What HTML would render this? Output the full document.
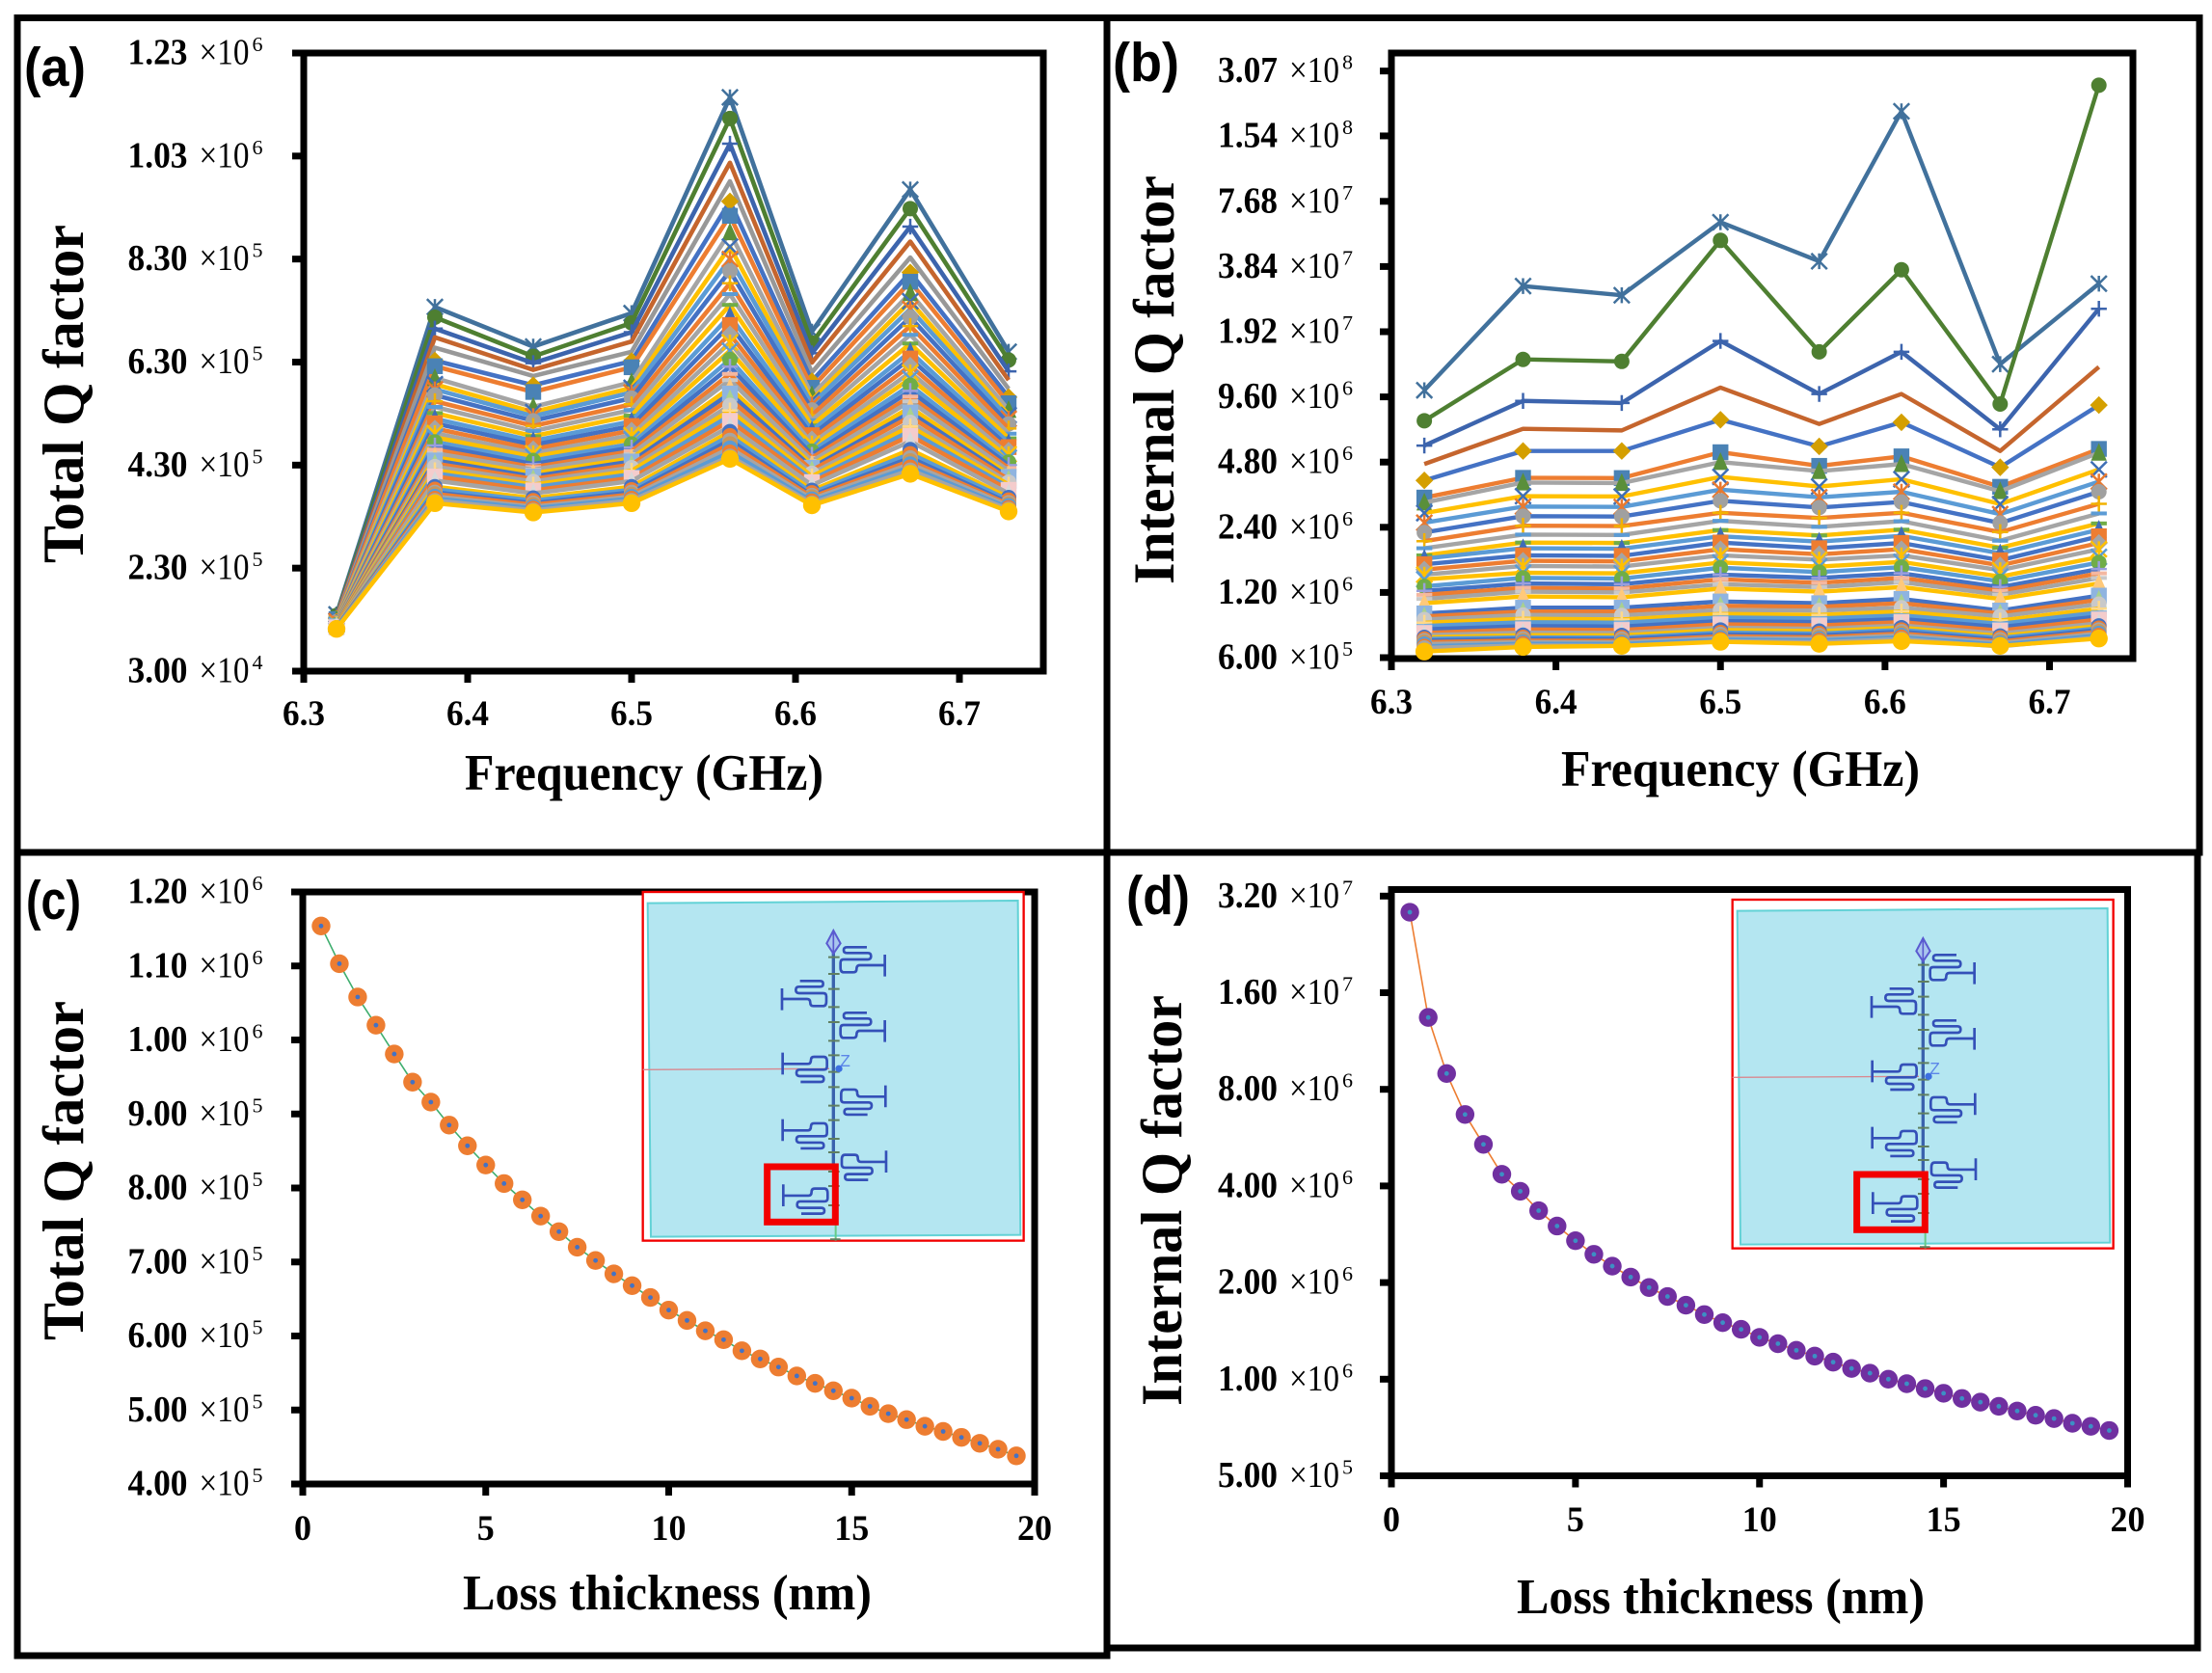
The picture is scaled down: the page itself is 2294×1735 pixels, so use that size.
<!DOCTYPE html>
<html lang="en">
<head>
<meta charset="utf-8">
<title>Q factor charts</title>
<style>
html,body{margin:0;padding:0;background:#fff;}
svg{display:block;}
.title{font-family:"Liberation Serif",serif;font-weight:bold;fill:#000;}
.letter{font-family:"Liberation Sans",sans-serif;font-weight:bold;font-size:57px;fill:#000;}
</style>
</head>
<body>
<svg id="fig" xmlns="http://www.w3.org/2000/svg" width="2294" height="1735" viewBox="0 0 2294 1735">
  <rect x="0" y="0" width="2294" height="1735" fill="#fff"/>
  <g stroke="#000" stroke-width="7" fill="none">
    <path d="M18 18.5H2281V884H18Z"/>
    <path d="M18 884V1717H1148V884"/>
    <path d="M1148 1709H2279V884"/>
    <path d="M1148 18V884"/>
  </g>

  <text class="letter" x="25" y="89" textLength="64" lengthAdjust="spacingAndGlyphs">(a)</text>
  <text class="letter" x="1154" y="84" textLength="69" lengthAdjust="spacingAndGlyphs">(b)</text>
  <text class="letter" x="27" y="953" textLength="57" lengthAdjust="spacingAndGlyphs">(c)</text>
  <text class="letter" x="1168" y="948" textLength="66" lengthAdjust="spacingAndGlyphs">(d)</text>

  <text class="title" x="482" y="819" font-size="53" textLength="372" lengthAdjust="spacingAndGlyphs">Frequency (GHz)</text>
  <text class="title" x="1619" y="815" font-size="53" textLength="372" lengthAdjust="spacingAndGlyphs">Frequency (GHz)</text>
  <text class="title" x="480" y="1669" font-size="52" textLength="424" lengthAdjust="spacingAndGlyphs">Loss thickness (nm)</text>
  <text class="title" x="1573" y="1673" font-size="52" textLength="423" lengthAdjust="spacingAndGlyphs">Loss thickness (nm)</text>
  <text class="title" transform="translate(86,584) rotate(-90)" font-size="60" textLength="351" lengthAdjust="spacingAndGlyphs">Total Q factor</text>
  <text class="title" transform="translate(1217,606) rotate(-90)" font-size="60" textLength="424" lengthAdjust="spacingAndGlyphs">Internal Q factor</text>
  <text class="title" transform="translate(86,1390) rotate(-90)" font-size="60" textLength="352" lengthAdjust="spacingAndGlyphs">Total Q factor</text>
  <text class="title" transform="translate(1225,1458) rotate(-90)" font-size="60" textLength="426" lengthAdjust="spacingAndGlyphs">Internal Q factor</text>

  <g id="charts"></g>

  <defs>
    <path id="meander" d="M773 243H695Q685 243 685 255Q685 265 675 265H645Q635 265 635 250V235Q635 225 645 225H720Q730 225 730 215Q730 205 720 205H655Q645 205 645 196Q645 187 655 187H717M773 210V278" fill="none" stroke="#3450b8" stroke-width="8"/>
    <g id="layout">
      <rect x="20" y="15" width="1185" height="1085" fill="#fff" stroke="#f20000" stroke-width="7"/>
      <polygon points="35,50 1187,42 1195,1082 45,1088" fill="#b4e6f1" stroke="#62d2d6" stroke-width="6"/>
      <path d="M20 568L600 565" stroke="#d9878f" stroke-width="4" fill="none"/>
      <path d="M620 1050V1100" stroke="#66cc88" stroke-width="6" fill="none"/>
      <path d="M613 205V880" stroke="#3a62ad" stroke-width="10" fill="none"/>
      <path d="M597 218H632M597 270H632M597 317H632M597 373H632M597 420H632M597 478H632M597 523H632M597 575H632M597 622H632M597 680H632M597 725H632M597 783H632M597 825H632M597 885H632M597 930H632M597 990H632M603 1096H635" stroke="#607f60" stroke-width="6" fill="none"/>
      <polygon points="613,135 635,175 613,207 592,175" fill="#a9c6ee" stroke="#5a5ad0" stroke-width="6"/>
      <path d="M613 135V207" stroke="#5a5ad0" stroke-width="5" fill="none"/>
      <use href="#meander"/>
      <use href="#meander" transform="translate(0,204)"/>
      <use href="#meander" transform="translate(2,895) scale(1,-1)"/>
      <use href="#meander" transform="translate(4,1098) scale(1,-1)"/>
      <use href="#meander" transform="translate(1226,105) scale(-1,1)"/>
      <use href="#meander" transform="translate(1228,793) scale(-1,-1)"/>
      <use href="#meander" transform="translate(1228,1000) scale(-1,-1)"/>
      <use href="#meander" transform="translate(1230,1203) scale(-1,-1)"/>
      <circle cx="630" cy="565" r="11" fill="#3c6fe0"/>
      <text x="634" y="558" font-family="Liberation Sans, sans-serif" font-size="52" fill="#5c86e8">Z</text>
      <rect x="407" y="870" width="212" height="172" fill="none" stroke="#f20000" stroke-width="21"/>
    </g>
  </defs>
  <g transform="translate(660,920) scale(0.3333)"><use href="#layout"/></g>
  <g transform="translate(1790,928) scale(0.3333)"><use href="#layout"/></g>
</svg>

<script>
// ---- shared categories ----
const frequenciesGHz = [6.32, 6.38, 6.44, 6.50, 6.56, 6.61, 6.67, 6.73];
const freqTicks = [6.3, 6.4, 6.5, 6.6, 6.7];
const thicknessTicks = [0, 5, 10, 15, 20];
const thicknessNm = [0.5,1,1.5,2,2.5,3,3.5,4,4.5,5,5.5,6,6.5,7,7.5,8,8.5,9,9.5,10,10.5,11,11.5,12,12.5,13,13.5,14,14.5,15,15.5,16,16.5,17,17.5,18,18.5,19,19.5];

// ---- tick values ----
const yTicksA = [3.0e4, 2.3e5, 4.3e5, 6.3e5, 8.3e5, 1.03e6, 1.23e6];
const yTicksB = [6.0e5, 1.2e6, 2.4e6, 4.8e6, 9.6e6, 1.92e7, 3.84e7, 7.68e7, 1.54e8, 3.07e8];
const yTicksC = [4e5, 5e5, 6e5, 7e5, 8e5, 9e5, 1e6, 1.1e6, 1.2e6];
const yTicksD = [5e5, 1e6, 2e6, 4e6, 8e6, 1.6e7, 3.2e7];

// ---- panel (a) total Q, units of 1e5; one row per thickness, columns = frequenciesGHz ----
const totalQE5 = [
 [1.40,7.37,6.60,7.25,11.44,6.89,9.65,6.50],
 [1.38,7.17,6.41,7.06,11.03,6.67,9.28,6.34],
 [1.36,6.95,6.28,6.88,10.54,6.47,8.93,6.12],
 [1.35,6.78,6.15,6.70,10.17,6.29,8.64,5.95],
 [1.33,6.58,6.03,6.50,9.81,6.10,8.33,5.78],
 [1.32,6.33,5.85,6.32,9.42,5.93,8.04,5.62],
 [1.31,6.22,5.72,6.20,9.14,5.80,7.86,5.50],
 [1.29,5.99,5.43,5.91,8.82,5.66,7.64,5.37],
 [1.28,5.87,5.33,5.80,8.54,5.56,7.48,5.27],
 [1.27,5.77,5.25,5.71,8.30,5.48,7.33,5.20],
 [1.26,5.66,5.16,5.60,8.07,5.37,7.17,5.10],
 [1.26,5.54,5.06,5.48,7.83,5.27,7.00,5.01],
 [1.25,5.43,4.96,5.37,7.62,5.17,6.83,4.91],
 [1.24,5.31,4.86,5.26,7.41,5.07,6.66,4.82],
 [1.23,5.20,4.77,5.15,7.20,4.97,6.50,4.73],
 [1.22,5.11,4.69,5.06,7.02,4.88,6.37,4.65],
 [1.22,5.01,4.61,4.97,6.84,4.80,6.23,4.58],
 [1.21,4.92,4.53,4.88,6.68,4.72,6.10,4.51],
 [1.20,4.84,4.46,4.80,6.52,4.65,5.98,4.44],
 [1.20,4.75,4.39,4.71,6.35,4.57,5.85,4.36],
 [1.19,4.68,4.32,4.64,6.21,4.50,5.74,4.30],
 [1.19,4.60,4.26,4.57,6.07,4.44,5.63,4.24],
 [1.18,4.53,4.21,4.51,5.95,4.38,5.54,4.19],
 [1.18,4.45,4.14,4.43,5.80,4.31,5.42,4.12],
 [1.17,4.39,4.08,4.37,5.69,4.25,5.32,4.07],
 [1.17,4.33,4.03,4.31,5.58,4.20,5.24,4.02],
 [1.16,4.27,3.98,4.25,5.46,4.14,5.13,3.97],
 [1.16,4.20,3.92,4.19,5.36,4.08,5.05,3.92],
 [1.15,4.14,3.87,4.12,5.26,4.02,4.96,3.87],
 [1.15,4.08,3.81,4.05,5.16,3.97,4.87,3.82],
 [1.15,4.00,3.75,3.99,5.05,3.91,4.76,3.75],
 [1.14,3.88,3.66,3.88,4.95,3.81,4.60,3.67],
 [1.14,3.83,3.61,3.82,4.87,3.76,4.52,3.62],
 [1.14,3.77,3.56,3.77,4.78,3.71,4.44,3.57],
 [1.13,3.74,3.53,3.73,4.71,3.68,4.38,3.54],
 [1.13,3.69,3.49,3.69,4.63,3.64,4.32,3.51],
 [1.13,3.65,3.46,3.65,4.55,3.60,4.26,3.47],
 [1.12,3.61,3.42,3.61,4.47,3.56,4.20,3.44],
 [1.12,3.56,3.38,3.56,4.42,3.52,4.13,3.40]
];

// ---- panel (b) internal Q, units of 1e6; one row per thickness, columns = frequenciesGHz ----
const internalQE6 = [
 [10.3,31.2,28.3,61.5,40.6,200,13.6,32.0],
 [7.45,14.3,14.0,50.7,15.5,37.1,8.9,264],
 [5.72,9.2,9.0,17.4,9.9,15.5,6.8,24.5],
 [4.70,6.84,6.72,10.6,7.2,9.9,5.4,13.2],
 [3.95,5.4,5.4,7.53,5.67,7.33,4.54,8.8],
 [3.29,4.06,4.05,5.33,4.61,5.10,3.69,5.52],
 [3.12,3.86,3.84,4.80,4.36,4.70,3.52,5.30],
 [2.79,3.34,3.33,4.10,3.70,4.00,3.07,4.44],
 [2.52,2.99,2.98,3.58,3.30,3.50,2.76,3.90],
 [2.27,2.70,2.69,3.18,2.96,3.14,2.51,3.50],
 [2.07,2.44,2.43,2.80,2.65,2.80,2.28,3.08],
 [1.92,2.22,2.21,2.57,2.41,2.56,2.08,2.78],
 [1.78,2.04,2.03,2.33,2.20,2.34,1.93,2.50],
 [1.72,1.92,1.91,2.18,2.06,2.19,1.82,2.34],
 [1.62,1.78,1.77,2.04,1.92,2.03,1.69,2.18],
 [1.53,1.68,1.67,1.90,1.80,1.90,1.60,2.03],
 [1.45,1.59,1.58,1.78,1.70,1.78,1.52,1.90],
 [1.38,1.48,1.47,1.65,1.58,1.66,1.42,1.75],
 [1.28,1.40,1.39,1.56,1.49,1.57,1.35,1.65],
 [1.22,1.32,1.31,1.45,1.40,1.47,1.27,1.54],
 [1.17,1.26,1.25,1.38,1.33,1.40,1.22,1.47],
 [1.12,1.21,1.20,1.31,1.27,1.34,1.17,1.40],
 [1.07,1.15,1.14,1.25,1.21,1.27,1.12,1.32],
 [0.96,1.02,1.02,1.09,1.07,1.12,0.99,1.16],
 [0.93,0.98,0.98,1.04,1.03,1.07,0.96,1.11],
 [0.90,0.945,0.94,0.995,0.99,1.02,0.93,1.06],
 [0.87,0.907,0.90,0.955,0.945,0.98,0.89,1.01],
 [0.84,0.874,0.87,0.92,0.91,0.94,0.86,0.97],
 [0.81,0.839,0.835,0.885,0.875,0.905,0.83,0.93],
 [0.78,0.81,0.805,0.855,0.845,0.875,0.80,0.90],
 [0.762,0.783,0.78,0.825,0.815,0.845,0.775,0.865],
 [0.744,0.762,0.76,0.805,0.795,0.825,0.755,0.84],
 [0.732,0.744,0.742,0.783,0.775,0.805,0.74,0.82],
 [0.719,0.732,0.73,0.768,0.76,0.79,0.725,0.805],
 [0.707,0.719,0.717,0.752,0.745,0.775,0.712,0.79],
 [0.693,0.707,0.705,0.739,0.732,0.76,0.70,0.775],
 [0.676,0.695,0.693,0.727,0.72,0.745,0.688,0.76],
 [0.665,0.683,0.681,0.714,0.707,0.73,0.676,0.745],
 [0.64,0.672,0.68,0.71,0.695,0.715,0.68,0.735]
];

// ---- panel (c) total Q at 6.56 GHz, units of 1e5 ----
const totalVsThickness = [11.54,11.03,10.58,10.2,9.81,9.43,9.16,8.85,8.57,8.31,8.06,7.84,7.62,7.41,7.2,7.02,6.84,6.68,6.52,6.35,6.21,6.07,5.95,5.80,5.69,5.58,5.46,5.36,5.26,5.16,5.05,4.95,4.87,4.78,4.71,4.63,4.55,4.47,4.38];

// ---- panel (d) internal Q at 6.56 GHz, units of 1e6 ----
const internalVsThickness = [28.5,13.4,8.96,6.68,5.39,4.35,3.85,3.35,3.0,2.70,2.45,2.25,2.08,1.93,1.81,1.70,1.59,1.50,1.43,1.35,1.29,1.23,1.18,1.13,1.08,1.044,1.0,0.968,0.935,0.904,0.871,0.848,0.823,0.796,0.772,0.754,0.729,0.713,0.692];

// ---- series styling ----
const markerKinds = ['star','circle','plus','none','diamond','square','triangle','x','star','circle','plus','dash','dash','triangle','square','diamond','star','x','circle','plus','dash','dash','triangle','square','triangle','circle','plus','dash','dash','square','triangle','circle','circle','circle','circle','circle','circle','circle','circle'];
const markerColors = ['#41719c','#4e7f31','#3c64ad','#c5652d','#d49f00','#4a82b5','#5a8f3a','#3f6fb5','#e8792f','#a0a0a0','#f2b200','#5b9bd5','#70ad47','#3e6cb8','#ed7d31','#a5a5a5','#ffc000','#5b9bd5','#70ad47','#9a9fdc','#f4b7a0','#c9c9c9','#ffc97a','#8fb4e0','#a9d18e','#c9c9c9','#ffd98a','#7fb2e0','#f4c7b0','#f4cccc','#d9d9d9','#4472c4','#ed7d31','#a5a5a5','#c9975a','#5b9bd5','#ed7d31','#a5a5a5','#ffc000'];
const lineColors = ['#41719c','#4e7f31','#3c64ad','#c5652d','#4472c4','#ed7d31','#a5a5a5','#ffc000','#5b9bd5','#4472c4','#ed7d31','#a5a5a5','#ffc000','#5b9bd5','#4472c4','#ed7d31','#a5a5a5','#ffc000','#5b9bd5','#4472c4','#ed7d31','#a5a5a5','#ffc000','#4472c4','#ed7d31','#a5a5a5','#ffc000','#5b9bd5','#4472c4','#ed7d31','#a5a5a5','#ffc000','#5b9bd5','#4472c4','#ed7d31','#a5a5a5','#5b9bd5','#a5a5a5','#ffc000'];

const NS = 'http://www.w3.org/2000/svg';
const root = document.getElementById('charts');
function el(tag, attrs, parent) {
  const e = document.createElementNS(NS, tag);
  for (const k in attrs) e.setAttribute(k, attrs[k]);
  parent.appendChild(e);
  return e;
}
function linearScale(d0, d1, r0, r1) { return v => r0 + (v - d0) / (d1 - d0) * (r1 - r0); }
function log2Scale(d0, r0, perOctave) { return v => r0 - Math.log2(v / d0) * perOctave; }

function drawYTickLabel(g, value, y, cfg) {
  const exp = Math.floor(Math.log10(value) + 1e-9);
  const mant = (value / Math.pow(10, exp)).toFixed(2);
  const serif = '"Liberation Serif",serif';
  const a = el('text', {x: cfg.labelX, y: y + 11.5, 'font-family': serif, 'font-weight': 'bold', 'font-size': 38.5, textLength: 62, lengthAdjust: 'spacingAndGlyphs', fill: '#000'}, g);
  
  
  a.textContent = mant;
  const b = el('text', {x: cfg.labelX + 74, y: y + 11.5, 'font-family': serif, 'font-size': 38, textLength: 52, lengthAdjust: 'spacingAndGlyphs', fill: '#000'}, g);
  
  
  b.textContent = '×10';
  const c = el('text', {x: cfg.labelX + 129, y: y - 2, 'font-family': serif, 'font-size': 21, textLength: 11, lengthAdjust: 'spacingAndGlyphs', fill: '#000'}, g);
  
  
  c.textContent = String(exp);
}

function drawAxes(cfg, xTicks, yTicks, sx, sy) {
  const g = el('g', {}, root);
  
  
  const frame = el('rect', {x: cfg.l, y: cfg.t, width: cfg.r - cfg.l, height: cfg.b - cfg.t, fill: 'none', stroke: '#000', 'stroke-width': 7}, g);
  
  
  xTicks.forEach(v => {
    const x = sx(v);
    const t = el('line', {x1: x, x2: x, y1: cfg.b, y2: cfg.b + 12, stroke: '#000', 'stroke-width': 7}, g);
    
    
    const lab = el('text', {x: x, y: cfg.xLabelY, 'text-anchor': 'middle', 'font-family': '"Liberation Serif",serif', 'font-weight': 'bold', 'font-size': 37, textLength: String(v).length > 2 ? 44 : (String(v).length > 1 ? 36 : 18), lengthAdjust: 'spacingAndGlyphs', fill: '#000'}, g);
    
    
    lab.textContent = String(v);
  });
  yTicks.forEach(v => {
    const y = sy(v);
    const t = el('line', {x1: cfg.l - 12, x2: cfg.l, y1: y, y2: y, stroke: '#000', 'stroke-width': 7}, g);
    
    
    drawYTickLabel(g, v, y, cfg);
  });
}

function drawMarker(g, kind, x, y, color, big) {
  const s = 8.2;
  let m = null;
  if (kind === 'circle') m = el('circle', {cx: x, cy: y, r: big ? 9.2 : 8, fill: color}, g);
  else if (kind === 'square') m = el('rect', {x: x - s, y: y - s, width: 2 * s, height: 2 * s, fill: color}, g);
  else if (kind === 'diamond') m = el('polygon', {points: [x, y - s - 1, x + s + 1, y, x, y + s + 1, x - s - 1, y].join(' '), fill: color}, g);
  else if (kind === 'triangle') m = el('polygon', {points: [x, y - s - 2, x + s, y + s, x - s, y + s].join(' '), fill: color}, g);
  else if (kind === 'dash') m = el('rect', {x: x - s, y: y - 2, width: 2 * s, height: 4, fill: color}, g);
  else if (kind === 'plus') m = el('path', {d: 'M' + (x - s) + ' ' + y + 'H' + (x + s) + 'M' + x + ' ' + (y - s) + 'V' + (y + s), stroke: color, 'stroke-width': 2.5, fill: 'none'}, g);
  else if (kind === 'x') m = el('path', {d: 'M' + (x - s) + ' ' + (y - s) + 'L' + (x + s) + ' ' + (y + s) + 'M' + (x + s) + ' ' + (y - s) + 'L' + (x - s) + ' ' + (y + s), stroke: color, 'stroke-width': 2.5, fill: 'none'}, g);
  else if (kind === 'star') m = el('path', {d: 'M' + (x - s) + ' ' + (y - s) + 'L' + (x + s) + ' ' + (y + s) + 'M' + (x + s) + ' ' + (y - s) + 'L' + (x - s) + ' ' + (y + s) + 'M' + x + ' ' + (y - s) + 'V' + (y + s), stroke: color, 'stroke-width': 2.5, fill: 'none'}, g);
  if (m) {
    
    
  }
}

function drawFamily(cfg, rows, unit, styleIndex, sx, sy) {
  const g = el('g', {}, root);
  
  
  rows.forEach((row, i) => {
    const si = styleIndex(i);
    const sg = el('g', {}, g);
    
    
    const pts = row.map((v, j) => sx(frequenciesGHz[j]) + ',' + sy(v * unit));
    const color = cfg.grayFifth && i === 4 ? '#989898' : lineColors[si];
    const pl = el('polyline', {points: pts.join(' '), fill: 'none', stroke: color, 'stroke-width': cfg.lineWidth, 'stroke-linejoin': 'round'}, sg);
    
    
    if (!(cfg.grayFifth && i === 4)) {
      row.forEach((v, j) => {
        drawMarker(sg, markerKinds[si], sx(frequenciesGHz[j]), sy(v * unit), markerColors[si], i === rows.length - 1);
      });
    }
  });
}

function drawSingle(cfg, values, unit, sx, sy) {
  const g = el('g', {}, root);
  
  
  const pts = values.map((v, i) => sx(thicknessNm[i]) + ',' + sy(v * unit));
  const pl = el('polyline', {points: pts.join(' '), fill: 'none', stroke: cfg.lineColor, 'stroke-width': 1.6}, g);
  
  
  values.forEach((v, i) => {
    const c = el('circle', {cx: sx(thicknessNm[i]), cy: sy(v * unit), r: 9.7, fill: cfg.dotColor}, g);
    
    
    const d = el('circle', {cx: sx(thicknessNm[i]), cy: sy(v * unit), r: 2.4, fill: cfg.coreColor}, g);
    
    
  });
}

// panel a
const cfgA = {name: 'panel-a', l: 315, r: 1082, t: 55, b: 696, labelX: 132.5, xLabelY: 752, grayFifth: true, lineWidth: 4.6};
const sxA = linearScale(6.3, 6.7, 315, 995);
const syA = linearScale(3.0e4, 1.23e6, 696, 55);
drawAxes(cfgA, freqTicks, yTicksA, sxA, syA);
drawFamily(cfgA, totalQE5, 1e5, i => i < 4 ? i : (i === 4 ? 3 : (i <= 28 ? i - 1 : i)), sxA, syA);

// panel b
const cfgB = {name: 'panel-b', l: 1443, r: 2212, t: 55, b: 683, labelX: 1263, xLabelY: 740, lineWidth: 4.4};
const sxB = linearScale(6.3, 6.7, 1443, 2125.5);
const syB = log2Scale(6e5, 682, 67.6);
drawAxes(cfgB, freqTicks, yTicksB, sxB, syB);
drawFamily(cfgB, internalQE6, 1e6, i => i, sxB, syB);

// panel c
const cfgC = {name: 'panel-c', l: 314, r: 1073, t: 925, b: 1539, labelX: 132.5, xLabelY: 1597, lineColor: '#3fae6e', dotColor: '#ed7d31', coreColor: '#4472c4'};
const sxC = linearScale(0, 20, 314, 1073);
const syC = linearScale(4e5, 1.2e6, 1539, 925);
drawAxes(cfgC, thicknessTicks, yTicksC, sxC, syC);
drawSingle(cfgC, totalVsThickness, 1e5, sxC, syC);

// panel d
const cfgD = {name: 'panel-d', l: 1443, r: 2206.5, t: 922.5, b: 1530.5, labelX: 1263, xLabelY: 1588, lineColor: '#ed7d31', dotColor: '#7030a0', coreColor: '#3d8fc4'};
const sxD = linearScale(0, 20, 1443, 2206.5);
const syD = log2Scale(5e5, 1530.5, 100.2);
drawAxes(cfgD, thicknessTicks, yTicksD, sxD, syD);
drawSingle(cfgD, internalVsThickness, 1e6, sxD, syD);
</script>
</body>
</html>
